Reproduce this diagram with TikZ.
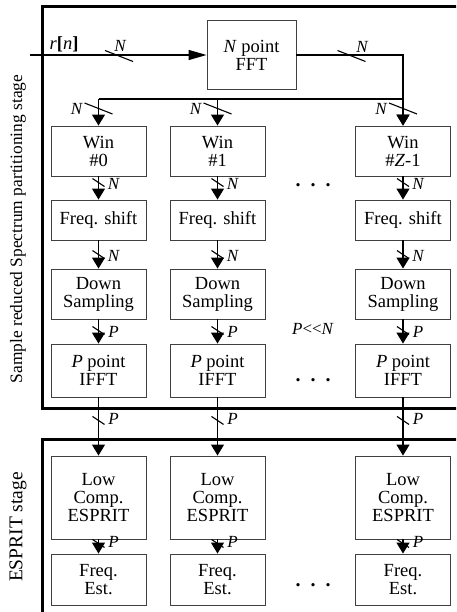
\documentclass[tikz,border=0pt]{standalone}
\usepackage{fontspec}
\setmainfont{Liberation Serif}
\usetikzlibrary{arrows.meta,calc}
\begin{document}
\begin{tikzpicture}[x=1pt,y=-1pt,
 box/.style={draw=black!75,line width=0.9pt,minimum width=95pt,inner sep=0pt,align=center,font=\fontsize{18.5}{18}\selectfont},
 conn/.style={line width=1.3pt},
 arr/.style={conn,-{Triangle[length=11pt,width=13pt]}},
 bigarr/.style={conn,-{Triangle[length=18pt,width=10pt]}},
 bus/.style={line width=1.1pt},
 lbl/.style={font=\fontsize{17}{17}\selectfont\itshape,inner sep=0pt},
 frm/.style={line width=3pt},
 side/.style={rotate=90,inner sep=0pt},
 dotsnode/.style={font=\fontsize{20}{20}\selectfont\bfseries,inner sep=0pt}
]
\useasboundingbox (0,0) rectangle (456,612);
\clip (0,0) rectangle (456,612);

% stage frames
\draw[frm] (470,7) -- (42,7) -- (42,408) -- (470,408);
\draw[frm] (470,439) -- (42,439) -- (42,640);

% side labels
\node[side,font=\fontsize{17.4}{17}\selectfont] (lab1) at (18,229) {Sample reduced Spectrum partitioning stage};
\node[side,font=\fontsize{19.5}{19}\selectfont] (lab2) at (18,527) {ESPRIT stage};

% FFT
\node[box,minimum width=89pt,minimum height=69pt] (fft) at (251.5,55) {\textit{N} point\\FFT};

% columns
\foreach \i/\x/\w in {0/98.5/\#0, 1/217.5/\#1, 2/403/\#\textit{Z}-1} {
  \node[box,minimum height=50pt] (win\i) at (\x,151) {Win\\\w};
  \node[box,minimum height=40pt] (fs\i) at (\x,220) {Freq. shift};
  \node[box,minimum height=50pt] (ds\i) at (\x,294) {Down\\Sampling};
  \node[box,minimum height=53pt] (ifft\i) at (\x,370.5) {\textit{P} point\\IFFT};
  \node[box,minimum height=83pt] (esp\i) at (\x,497.5) {Low\\Comp.\\ESPRIT};
  \node[box,minimum height=51pt] (fe\i) at (\x,579.5) {Freq.\\Est.};
}

% input
\coordinate (in) at (30,55);
\draw[bigarr] (in) -- (fft);
\draw[bus] (105,50.5) -- (133,61.5);
\node[lbl] (nin) at (120,46) {N};
\node[font=\fontsize{18.5}{18}\selectfont,inner sep=0pt] (rn) at (64,44) {\textit{r}\textbf{[}\textit{n}\textbf{]}};

% FFT output and distribution
\draw[arr] (fft.east) -| (win2.north);
\draw[bus] (337.5,50.5) -- (365.5,61.5);
\node[lbl] (nout) at (362,47) {N};
\coordinate (d0) at (98.5,99);
\coordinate (d1) at (217.5,99);
\coordinate (d2) at (403,99);
\draw[conn] (d0) -- (d2);
\foreach \i in {0,1,2} {
  \draw[arr] (d\i) -- (win\i.north);
  \draw[bus] ($(d\i)+(-14,4)$) -- ($(d\i)+(14,15)$);
  \node[lbl] at ($(d\i)+(-22,10)$) {N};
}

% vertical bus arrows
\foreach \i in {0,1,2} {
  \draw[arr] (win\i.south) -- (fs\i.north);
  \path (fs\i.north) ++(0,-17) coordinate (m);
  \draw[bus] ($(m)+(-6,-4)$) -- ($(m)+(6,4)$);
  \node[lbl] at ($(m)+(15,1)$) {N};

  \draw[arr] (fs\i.south) -- (ds\i.north);
  \path (ds\i.north) ++(0,-14) coordinate (m);
  \draw[bus] ($(m)+(-6,-4)$) -- ($(m)+(6,4)$);
  \node[lbl] at ($(m)+(15,1)$) {N};

  \draw[arr] (ds\i.south) -- (ifft\i.north);
  \path (ifft\i.north) ++(0,-13) coordinate (m);
  \draw[bus] ($(m)+(-6,-4)$) -- ($(m)+(6,4)$);
  \node[lbl] at ($(m)+(15,1)$) {P};

  \draw[arr] (ifft\i.south) -- (esp\i.north);
  \path (ifft\i.south) ++(0,23) coordinate (m);
  \draw[bus] ($(m)+(-6,-4)$) -- ($(m)+(6,4)$);
  \node[lbl] at ($(m)+(15,-2)$) {P};

  \draw[arr] (esp\i.south) -- (fe\i.north);
  \path (esp\i.south) ++(0,4) coordinate (m);
  \draw[bus] ($(m)+(-6,-4)$) -- ($(m)+(6,4)$);
  \node[lbl] at ($(m)+(15,-2)$) {P};
}

% dots and note
\node[dotsnode] (dots1) at (313,185) {.\hspace{10pt}.\hspace{10pt}.};
\node[dotsnode] (dots2) at (313,380) {.\hspace{10pt}.\hspace{10pt}.};
\node[dotsnode] (dots3) at (313,585) {.\hspace{10pt}.\hspace{10pt}.};
\node[font=\fontsize{17}{17}\selectfont,inner sep=0pt] (pn) at (313,329) {\textit{P}<{}<\textit{N}};
\end{tikzpicture}
\end{document}
